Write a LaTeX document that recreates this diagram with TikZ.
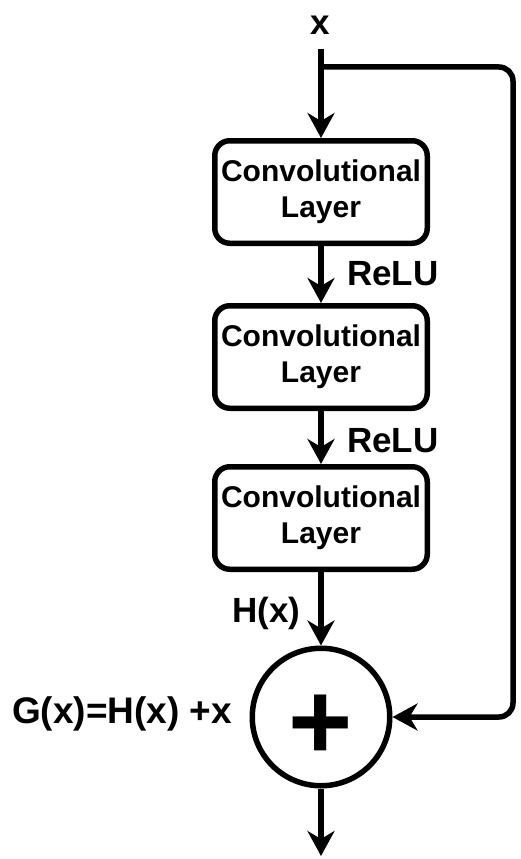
\documentclass[tikz,border=0pt]{standalone}
\usepackage{fontspec}
\setmainfont{Liberation Sans}
\usetikzlibrary{arrows.meta}
\begin{document}
\begin{tikzpicture}[x=1pt,y=-1pt,
  layerbox/.style={draw, line width=5.5pt, rounded corners=15pt, minimum width=212.5pt, minimum height=102.5pt, align=center, inner sep=0pt, font=\fontsize{30}{36}\selectfont\bfseries},
  lbl/.style={font=\fontsize{35}{40}\selectfont\bfseries, inner sep=0pt},
  conn/.style={line width=5.5pt, -{Stealth[length=25pt,width=27pt,inset=8pt]}},
]
\useasboundingbox (0,0) rectangle (521,859);

\node[lbl, anchor=base] (xl) at (320,35) {x};
\coordinate (top) at (321,49);
\coordinate (br) at (321,67);

\node[layerbox] (c1) at (321,192) {Convolutional\\Layer};
\node[layerbox] (c2) at (321,357) {Convolutional\\Layer};
\node[layerbox] (c3) at (321,518) {Convolutional\\Layer};

\node[draw, circle, line width=5.5pt, minimum size=137.5pt, inner sep=0pt] (sum) at (321,717) {};
\node[inner sep=0pt, font=\fontsize{110}{110}\selectfont\bfseries] (plus) at (321,727) {+};

\coordinate (out) at (321,856);

\node[lbl, anchor=base west] (r1) at (347,285) {ReLU};
\node[lbl, anchor=base west] (r2) at (347,452) {ReLU};
\node[lbl, anchor=base west] (hx) at (232,622) {H(x)};
\node[lbl, anchor=base west, font=\fontsize{37}{40}\selectfont\bfseries] (gx) at (12,723) {G(x)=H(x) +x};

\draw[conn] (top) -- (c1);
\draw[conn] (c1) -- (c2);
\draw[conn] (c2) -- (c3);
\draw[conn] (c3) -- (sum);
\draw[conn] (sum) -- (out);
\draw[conn, rounded corners=14pt] (br) -- (513,67) -- (513,717) -- (sum.east);
\end{tikzpicture}
\end{document}
